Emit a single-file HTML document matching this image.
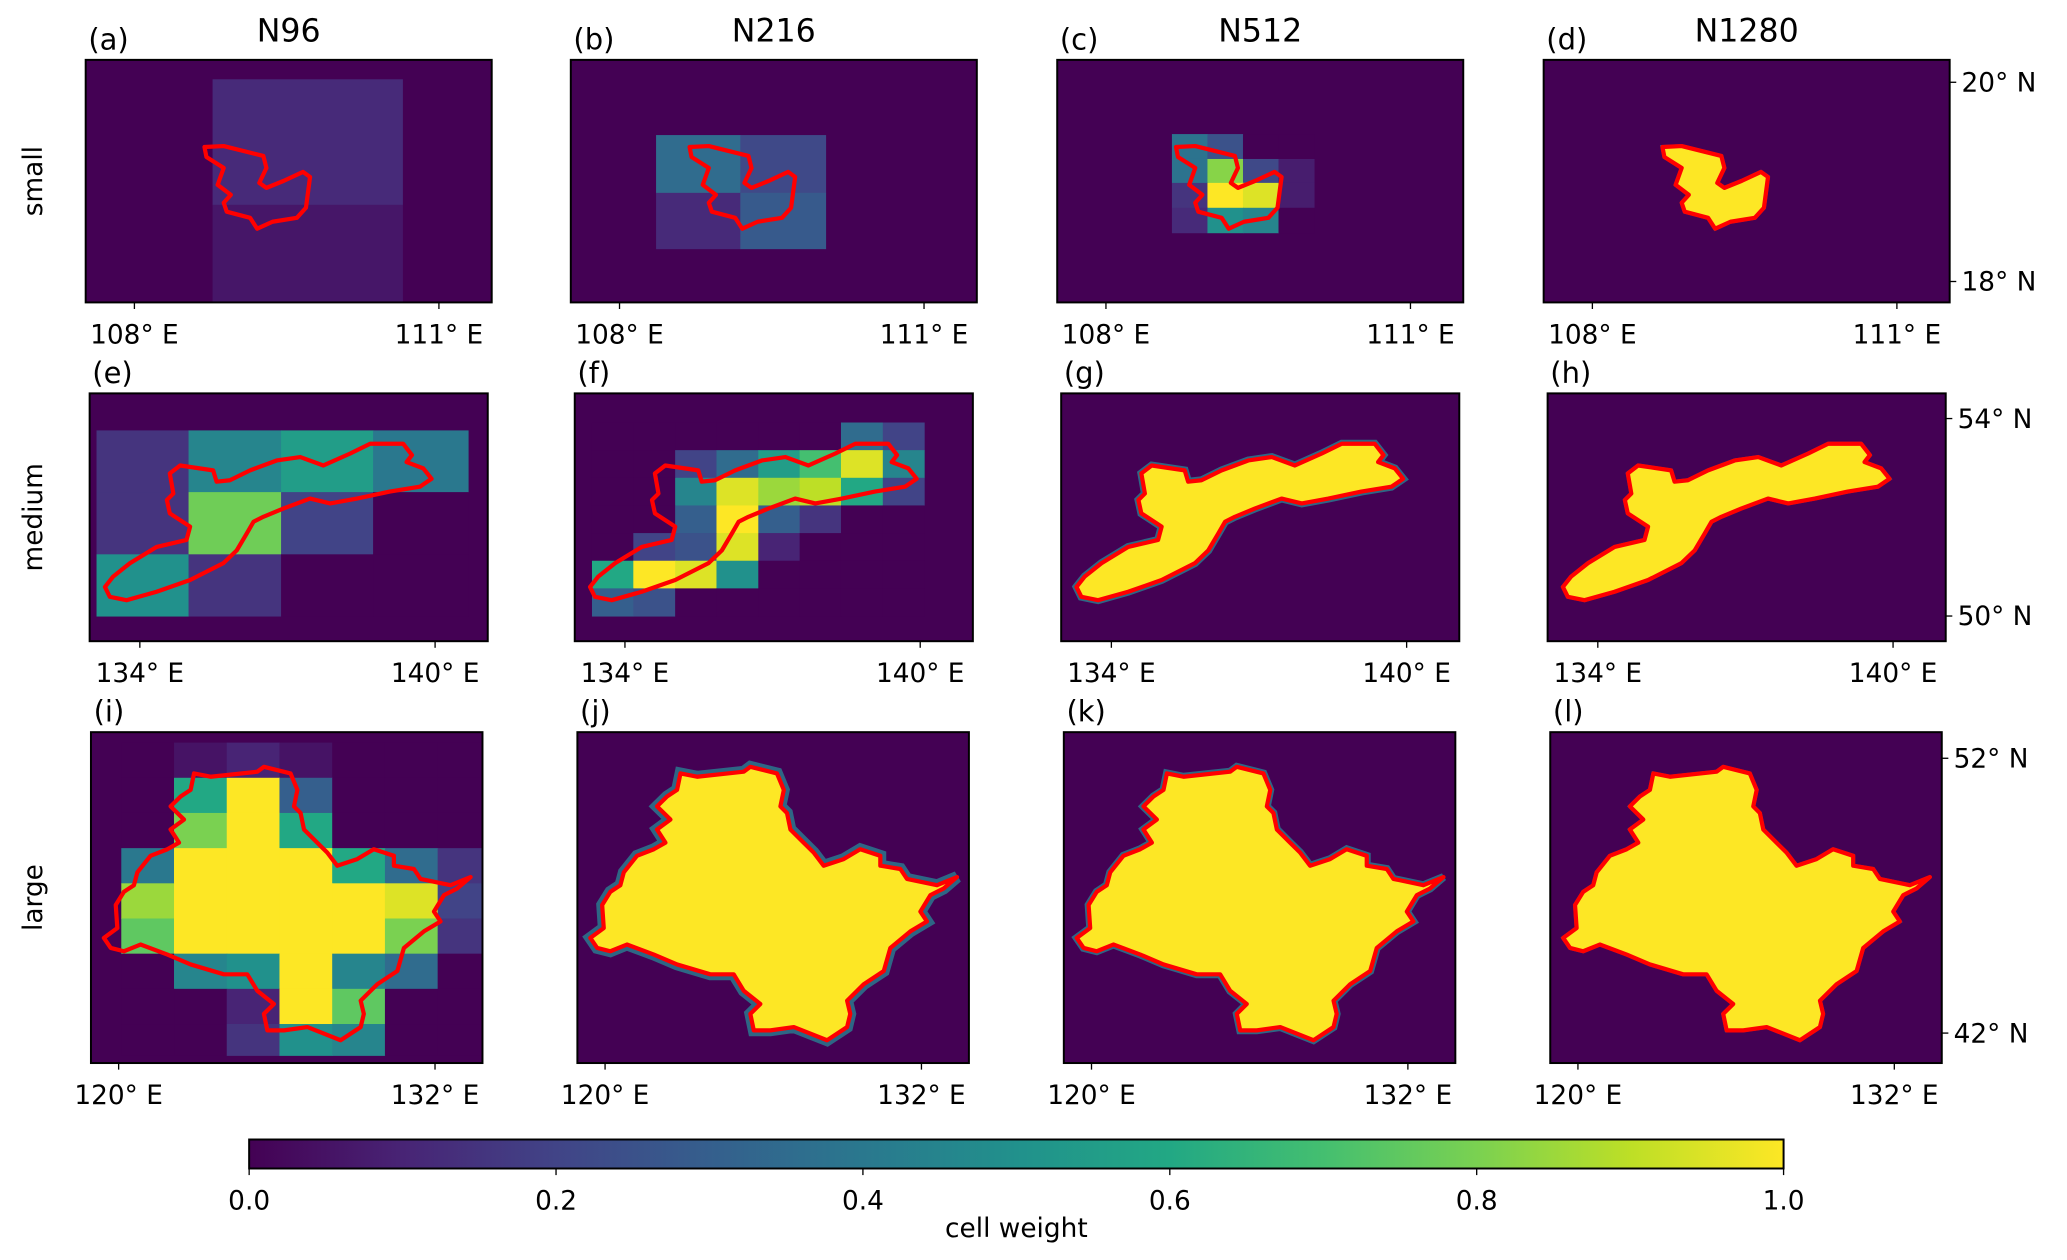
<!DOCTYPE html>
<html><head><meta charset="utf-8"><style>
html,body{margin:0;padding:0;background:#fff;}
svg{display:block;}
text{font-family:"DejaVu Sans","Liberation Sans",sans-serif;fill:#000;}
</style></head><body>
<svg id="fig" width="2067" height="1260" viewBox="0 0 1568 955" xmlns="http://www.w3.org/2000/svg"></svg>
<script>
// ---------- data ----------
const columnTitles = ["N96","N216","N512","N1280"];
const rowLabels = ["small","medium","large"];
const panelLetters = ["a","b","c","d","e","f","g","h","i","j","k","l"];
const colorbarTicks = [0.0,0.2,0.4,0.6,0.8,1.0];
const xTickValues = [[108,111],[134,140],[120,132]];
const yTickValues = [[20,18],[54,50],[52,42]];
const lonRange = [[107.52,111.52],[132.98,141.07],[118.95,133.8]];
const latRange = [[20.225,17.79],[54.51,49.49],[52.95,40.91]];
// basin outlines (lon, lat)
const outlineSmall = [[108.69,19.35],[108.88,19.36],[109.27,19.26],[109.30,19.14],[109.23,18.99],[109.30,18.94],[109.47,19.01],[109.66,19.10],[109.73,19.05],[109.69,18.74],[109.60,18.64],[109.36,18.60],[109.21,18.53],[109.14,18.64],[108.91,18.70],[108.88,18.79],[108.95,18.87],[108.82,18.97],[108.88,19.14],[108.71,19.25]];
const outlineMedium = [[133.29,50.59],[133.46,50.80],[133.80,51.07],[134.34,51.40],[134.95,51.54],[135.02,51.81],[134.61,52.08],[134.55,52.35],[134.68,52.48],[134.61,52.89],[134.82,53.05],[135.49,52.95],[135.56,52.72],[135.83,52.75],[136.24,52.95],[136.78,53.15],[137.26,53.22],[137.73,53.05],[138.27,53.29],[138.68,53.49],[139.35,53.49],[139.53,53.26],[139.42,53.12],[139.76,52.99],[139.93,52.78],[139.69,52.62],[139.08,52.52],[138.41,52.38],[137.87,52.28],[137.46,52.38],[136.92,52.18],[136.51,52.01],[136.31,51.91],[136.17,51.67],[135.97,51.33],[135.70,51.07],[135.02,50.73],[134.34,50.49],[133.73,50.32],[133.39,50.39]];
const outlineLarge = [[119.44,45.46],[119.95,45.82],[119.89,46.66],[120.20,47.14],[120.58,47.38],[120.71,47.85],[121.21,48.45],[121.85,48.69],[122.29,48.93],[121.97,49.41],[122.48,49.77],[121.97,50.25],[122.35,50.61],[122.73,50.85],[122.86,51.45],[123.49,51.33],[125.26,51.51],[125.51,51.69],[126.52,51.45],[126.78,50.85],[126.65,50.25],[126.90,50.01],[127.03,49.41],[127.53,48.93],[127.91,48.57],[128.29,48.09],[129.05,48.33],[129.68,48.69],[130.44,48.45],[130.44,48.09],[131.20,47.97],[131.45,47.61],[132.59,47.38],[133.35,47.68],[132.84,47.26],[132.34,47.02],[131.96,46.42],[132.21,46.06],[131.58,45.70],[130.82,45.10],[130.57,44.26],[129.81,43.78],[129.18,43.18],[129.30,42.70],[129.18,42.22],[128.42,41.74],[127.16,42.22],[126.27,42.10],[125.64,42.10],[125.51,42.70],[125.89,43.06],[125.26,43.54],[124.88,44.14],[123.99,44.14],[122.73,44.50],[121.85,44.86],[120.83,45.22],[120.20,44.98],[119.70,45.10]];
// cell weight grids
const gridA = {lon:[108.77,110.64], lat:[20.03,18.77,17.79], w:[[0.12],[0.06]]};
const gridB = {lon:[108.36,109.19,110.03], lat:[19.47,18.89,18.33], w:[[0.35,0.22],[0.12,0.28]]};
const gridC = {lon:[108.65,109.0,109.35,109.70,110.05], lat:[19.48,19.23,18.99,18.74,18.49], w:[[0.38,0.25,0,0],[0.38,0.82,0.22,0.08],[0.15,1,0.95,0.08],[0.12,0.5,0.45,0]]};
const gridE = {lon:[133.12,134.99,136.87,138.74,140.67], lat:[53.76,52.51,51.25,50.0], w:[[0.15,0.45,0.55,0.4],[0.15,0.78,0.2,0],[0.5,0.15,0,0]]};
const gridF = {lon:[133.33,134.17,135.02,135.86,136.71,137.55,138.39,139.24,140.08], lat:[53.92,53.36,52.80,52.24,51.68,51.12,50.56,50.0], w:[[0,0,0,0,0,0,0.35,0.2],[0,0,0.2,0.35,0.55,0.7,0.95,0.45],[0,0,0.45,0.95,0.85,0.9,0.6,0.2],[0,0,0.3,1,0.3,0.15,0,0],[0,0.2,0.25,0.95,0.1,0,0,0],[0.6,1,0.95,0.5,0,0,0,0],[0.3,0.25,0,0,0,0,0,0]]};
const gridI = {lon:[120.1,122.1,124.1,126.1,128.1,130.1,132.1,133.8], lat:[52.57,51.29,50.01,48.73,47.45,46.17,44.89,43.61,42.33,41.19], w:[[0,0.05,0.1,0.05,0,0,0],[0,0.6,1,0.3,0,0,0],[0,0.8,1,0.6,0,0,0],[0.4,1,1,1,0.6,0.35,0.15],[0.85,1,1,1,1,0.95,0.2],[0.75,1,1,1,1,0.8,0.15],[0,0.45,0.5,1,0.45,0.35,0],[0,0,0.1,1,0.75,0,0],[0,0,0.15,0.5,0.45,0,0]]};

// ---------- layout ----------
const colX = [[65,433,802,1171],[68,436,805,1174],[69,438,807,1176]];
const rowW = [308,302,297];
const rowY = [[45,229],[298,486],[555,806]];

const VIR=[[0,"#440154"],[0.1,"#482475"],[0.2,"#414487"],[0.3,"#355f8d"],[0.4,"#2a788e"],[0.5,"#21918c"],[0.6,"#22a884"],[0.7,"#44bf70"],[0.8,"#7ad151"],[0.9,"#bddf26"],[1,"#fde725"]];
function hex(h){return [1,3,5].map(i=>parseInt(h.substr(i,2),16));}
function viridis(v){v=Math.max(0,Math.min(1,v));for(let i=1;i<VIR.length;i++){if(v<=VIR[i][0]){const a=VIR[i-1],b=VIR[i],t=(v-a[0])/(b[0]-a[0]);const c1=hex(a[1]),c2=hex(b[1]);return "rgb("+c1.map((c,k)=>Math.round(c+(c2[k]-c)*t)).join(",")+")";}}return VIR[10][1];}

const NS="http://www.w3.org/2000/svg";
const svg=document.getElementById("fig");
function el(tag,attrs,parent){const e=document.createElementNS(NS,tag);for(const k in attrs)e.setAttribute(k,attrs[k]);(parent||svg).appendChild(e);return e;}

const outlines=[outlineSmall,outlineMedium,outlineLarge];
const grids=[[gridA,gridB,gridC,null],[gridE,gridF,null,null],[gridI,null,null,null]];
const halo=[[0,0,0,1.5],[0,0,3,1.5],[0,4.5,3,1.5]];

for(let r=0;r<3;r++){
  for(let c=0;c<4;c++){
    const x0=colX[r][c],w=rowW[r],y0=rowY[r][0],y1=rowY[r][1],h=y1-y0;
    const xs=lon=>x0+(lon-lonRange[r][0])/(lonRange[r][1]-lonRange[r][0])*w;
    const ys=lat=>y0+(lat-latRange[r][0])/(latRange[r][1]-latRange[r][0])*h;
    const g=el("g",{});
    
    
    const cid="clip"+r+c;
    const cp=el("clipPath",{id:cid},g);el("rect",{x:x0,y:y0,width:w,height:h},cp);
    const inner=el("g",{"clip-path":"url(#"+cid+")"},g);
    const bg=el("rect",{x:x0,y:y0,width:w,height:h,fill:viridis(0)},inner);
    
    
    const pts=outlines[r].map(p=>xs(p[0]).toFixed(1)+","+ys(p[1]).toFixed(1)).join(" ");
    const gd=grids[r][c];
    if(gd){
      for(let i=0;i<gd.w.length;i++)for(let j=0;j<gd.w[i].length;j++){
        const cx0=xs(gd.lon[j]),cx1=xs(gd.lon[j+1]),cy0=ys(gd.lat[i]),cy1=ys(gd.lat[i+1]);
        const cell=el("rect",{x:cx0,y:cy0,width:cx1-cx0+0.4,height:cy1-cy0+0.4,fill:viridis(gd.w[i][j])},inner);
        
        
      }
    } else {
      if(halo[r][c]){const hp=el("polygon",{points:pts,fill:"none",stroke:viridis(0.4),"stroke-width":halo[r][c]*2,"stroke-linejoin":"miter",opacity:0.85},inner);
        }
      const fp=el("polygon",{points:pts,fill:viridis(1)},inner);
      
      
    }
    const ol=el("polygon",{points:pts,fill:"none",stroke:"#ff0000","stroke-width":3.2,"stroke-linejoin":"round"},inner);
    
    
    const fr=el("rect",{x:x0,y:y0,width:w,height:h,fill:"none",stroke:"#000","stroke-width":1.5},g);
    
    
    xTickValues[r].forEach(v=>{
      const tx=xs(v);
      el("line",{x1:tx,y1:y1,x2:tx,y2:y1+5,stroke:"#000","stroke-width":1},g);
      const t=el("text",{x:tx,y:y1+31,"font-size":20,"text-anchor":"middle"},g);
      t.textContent=v+"° E";
      
      
    });
    if(c===3){
      yTickValues[r].forEach(v=>{
        const ty=ys(v);
        el("line",{x1:x0+w,y1:ty,x2:x0+w+5,y2:ty,stroke:"#000","stroke-width":1},g);
        const t=el("text",{x:x0+w+9,y:ty+7,"font-size":20},g);
        t.textContent=v+"° N";
        
        
      });
    }
    const lt=el("text",{x:x0+2,y:y0-8,"font-size":22},g);
    lt.textContent="("+panelLetters[r*4+c]+")";
    
    
    if(r===0){
      const tt=el("text",{x:x0+w/2,y:y0-14,"font-size":24,"text-anchor":"middle"},g);
      tt.textContent=columnTitles[c];
      
      
    }
  }
  const cy=(rowY[r][0]+rowY[r][1])/2;
  const rl=el("text",{x:0,y:0,"font-size":20,"text-anchor":"middle",transform:"translate(32,"+cy+") rotate(-90)"});
  rl.textContent=rowLabels[r];
  
  
}

// colorbar
const cbX0=189,cbX1=1353,cbY=864,cbH=22;
const defs=el("defs",{});
const lg=el("linearGradient",{id:"vir",x1:0,x2:1,y1:0,y2:0},defs);
VIR.forEach(s=>el("stop",{offset:s[0],"stop-color":s[1]},lg));
const cb=el("rect",{x:cbX0,y:cbY,width:cbX1-cbX0,height:cbH,fill:"url(#vir)",stroke:"#000","stroke-width":1.5});


colorbarTicks.forEach(v=>{
  const tx=cbX0+v*(cbX1-cbX0);
  el("line",{x1:tx,y1:cbY+cbH,x2:tx,y2:cbY+cbH+5,stroke:"#000","stroke-width":1});
  const t=el("text",{x:tx,y:cbY+cbH+31,"font-size":20,"text-anchor":"middle"});
  t.textContent=v.toFixed(1);
  
  
});
const cl=el("text",{x:(cbX0+cbX1)/2,y:938,"font-size":20,"text-anchor":"middle"});
cl.textContent="cell weight";


</script>
</body></html>
